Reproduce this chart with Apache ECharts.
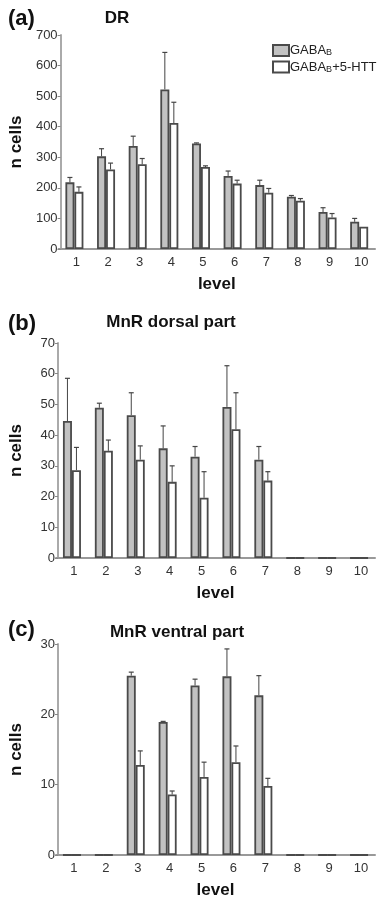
<!DOCTYPE html>
<html>
<head>
<meta charset="utf-8">
<script src="https://cdn.jsdelivr.net/npm/echarts@6/dist/echarts.min.js"></script>
<style>
  html, body { margin: 0; background: #fff; }
  #chart { width: 382px; height: 900px; }
</style>
</head>
<body>
<div id="chart"></div>
<script>
// levels along the x axis
const levels = ['1', '2', '3', '4', '5', '6', '7', '8', '9', '10'];

// (a) DR
const drGaba = [218, 303, 337, 522, 345, 239, 209, 171, 121, 89];
const drGabaHi = [234, 328, 369, 643, 347, 255, 225, 175, 135, 100];
const drHtt = [187, 260, 277, 412, 268, 214, 184, 158, 103, 73];
const drHttHi = [203, 281, 296, 480, 272, 225, 198, 165, 116, 73];

// (b) MnR dorsal part
const dorGaba = [44.6, 48.9, 46.5, 35.7, 33, 49.2, 32, 0, 0, 0];
const dorGabaHi = [58.5, 50.4, 53.8, 43, 36.3, 62.6, 36.3, 0, 0, 0];
const dorHtt = [28.6, 34.9, 32, 24.8, 19.6, 41.9, 25.2, 0, 0, 0];
const dorHttHi = [36, 38.4, 36.5, 30, 28.1, 53.8, 28.1, 0, 0, 0];

// (c) MnR ventral part
const venGaba = [0, 0, 25.5, 18.9, 24.1, 25.4, 22.7, 0, 0, 0];
const venGabaHi = [0, 0, 26, 19, 25, 29.3, 25.5, 0, 0, 0];
const venHtt = [0, 0, 12.8, 8.6, 11.1, 13.2, 9.8, 0, 0, 0];
const venHttHi = [0, 0, 14.8, 9.1, 13.2, 15.5, 10.9, 0, 0, 0];

// y axis ranges [max, interval]
const drAxis = [700, 100];
const dorAxis = [70, 10];
const venAxis = [30, 10];

const panels = [
  { top: 35, height: 214, axis: drAxis, gaba: drGaba, gabaHi: drGabaHi, htt: drHtt, httHi: drHttHi },
  { top: 343, height: 215, axis: dorAxis, gaba: dorGaba, gabaHi: dorGabaHi, htt: dorHtt, httHi: dorHttHi },
  { top: 644, height: 214, axis: venAxis, gaba: venGaba, gabaHi: venGabaHi, htt: venHtt, httHi: venHttHi }
];

const FONT = 'Liberation Sans, Arial, sans-serif';
const BAR_W = 9;

function errorBars(offset) {
  return function (params, api) {
    const lo = api.value(1), hi = api.value(2);
    if (!(hi > lo)) return null;
    const p0 = api.coord([api.value(0), lo]);
    const p1 = api.coord([api.value(0), hi]);
    const x = p0[0] + offset;
    return {
      type: 'group',
      children: [
        { type: 'line', shape: { x1: x, y1: p0[1], x2: x, y2: p1[1] }, style: { stroke: '#444', lineWidth: 1 } },
        { type: 'line', shape: { x1: x - 2.5, y1: p1[1], x2: x + 2.5, y2: p1[1] }, style: { stroke: '#444', lineWidth: 1.2 } }
      ]
    };
  };
}

const grid = [], xAxis = [], yAxis = [], series = [];
panels.forEach((p, k) => {
  grid.push({ left: 56, width: 319, top: p.top, height: p.height });
  xAxis.push({
    type: 'category', gridIndex: k, data: levels,
    axisLine: { lineStyle: { color: '#999', width: 2 } },
    axisTick: { show: false },
    axisLabel: { color: '#333', fontSize: 13, fontFamily: FONT, margin: 7, padding: [0, 0, 0, 4] },
    name: 'level', nameLocation: 'middle', nameGap: 27,
    nameTextStyle: { fontSize: 17, fontWeight: 'bold', fontFamily: FONT, color: '#111' }
  });
  yAxis.push({
    type: 'value', gridIndex: k, min: 0, max: p.axis[0], interval: p.axis[1], offset: -2,
    axisLine: { show: true, lineStyle: { color: '#aaa', width: 2 } },
    axisTick: { show: true, length: 3, lineStyle: { color: '#888' } },
    splitLine: { show: false },
    axisLabel: { color: '#333', fontSize: 13, fontFamily: FONT, margin: 3 },
    name: 'n cells', nameLocation: 'middle', nameGap: 33,
    nameTextStyle: { fontSize: 17, fontWeight: 'bold', fontFamily: FONT, color: '#111' }
  });
  series.push({
    name: 'GABAB', type: 'bar', xAxisIndex: k, yAxisIndex: k, data: p.gaba,
    barWidth: BAR_W, barGap: '0%',
    itemStyle: { color: '#c2c2c2', borderColor: '#4a4a4a', borderWidth: 1.8 }
  });
  series.push({
    name: 'GABAB+5-HTT', type: 'bar', xAxisIndex: k, yAxisIndex: k, data: p.htt,
    barWidth: BAR_W, barGap: '0%',
    itemStyle: { color: '#fff', borderColor: '#4a4a4a', borderWidth: 1.8 }
  });
  series.push({
    type: 'custom', xAxisIndex: k, yAxisIndex: k, z: 5,
    renderItem: errorBars(-BAR_W / 2),
    encode: { x: 0, y: [1, 2] },
    data: levels.map((l, i) => [i, p.gaba[i], p.gabaHi[i]])
  });
  series.push({
    type: 'custom', xAxisIndex: k, yAxisIndex: k, z: 5,
    renderItem: errorBars(BAR_W / 2),
    encode: { x: 0, y: [1, 2] },
    data: levels.map((l, i) => [i, p.htt[i], p.httHi[i]])
  });
});

const label = (text, x, y, size, align) => ({
  type: 'text', x: x, y: y,
  style: { text: text, fontSize: size, fontWeight: 'bold', fontFamily: FONT, fill: '#111',
           textAlign: align, textVerticalAlign: 'middle' }
});

const chart = echarts.init(document.getElementById('chart'));
chart.setOption({
  animation: false,
  grid: grid,
  xAxis: xAxis,
  yAxis: yAxis,
  series: series,
  legend: {
    data: ['GABAB', 'GABAB+5-HTT'],
    orient: 'vertical', left: 267, top: 39,
    icon: 'rect', itemWidth: 16, itemHeight: 11, itemGap: 3,
    formatter: name => name.replace('GABAB', 'GABA{s|B}'),
    textStyle: {
      fontSize: 13, fontFamily: FONT, color: '#222', padding: [0, 0, 0, -4],
      rich: { s: { fontSize: 9, fontFamily: FONT, color: '#222', verticalAlign: 'bottom', padding: [5, 0, 0, 0] } }
    }
  },
  graphic: [
    label('(a)', 8, 19, 22, 'left'),
    label('DR', 117, 18, 17, 'center'),
    label('(b)', 8, 324, 22, 'left'),
    label('MnR dorsal part', 171, 322, 17, 'center'),
    label('(c)', 8, 630, 22, 'left'),
    label('MnR ventral part', 177, 632, 17, 'center')
  ]
});
</script>
</body>
</html>
